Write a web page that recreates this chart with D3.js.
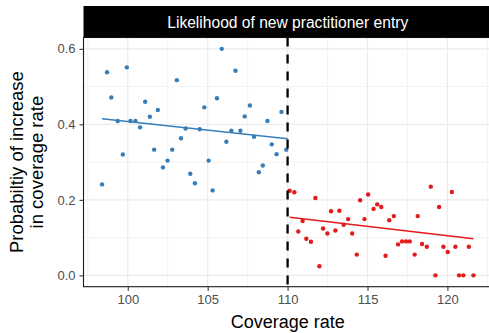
<!DOCTYPE html>
<html>
<head>
<meta charset="utf-8">
<script src="https://cdn.jsdelivr.net/npm/d3@7/dist/d3.min.js"></script>
<style>
  html, body { margin: 0; padding: 0; background: #ffffff; }
  svg { display: block; font-family: "Liberation Sans", Arial, sans-serif; }
</style>
</head>
<body>
<div id="chart"></div>
<script>
// below the cutoff (coverage < 110)
const belowX = [98.39, 98.70, 98.97, 99.37, 99.69, 99.94, 100.17, 100.48, 100.77, 101.09,
  101.38, 101.65, 101.88, 102.20, 102.49, 102.78, 103.07, 103.33, 103.62, 103.91,
  104.20, 104.50, 104.79, 105.06, 105.31, 105.58, 105.88, 106.17, 106.48, 106.74,
  107.05, 107.32, 107.64, 107.90, 108.20, 108.45, 108.74, 109.01, 109.31, 109.62, 109.92];
const belowY = [0.241, 0.538, 0.471, 0.409, 0.320, 0.551, 0.409, 0.409, 0.392, 0.460,
  0.420, 0.333, 0.438, 0.286, 0.304, 0.333, 0.517, 0.363, 0.389, 0.269,
  0.244, 0.387, 0.445, 0.304, 0.225, 0.469, 0.600, 0.354, 0.383, 0.542,
  0.383, 0.421, 0.450, 0.367, 0.273, 0.291, 0.409, 0.347, 0.321, 0.433, 0.333];

// above the cutoff
const aboveX = [110.13, 110.42, 110.67, 110.94, 111.17, 111.46, 111.74, 111.99, 112.22, 112.49,
  112.72, 112.99, 113.24, 113.51, 113.79, 114.04, 114.33, 114.54, 114.81, 115.04,
  115.38, 115.61, 115.86, 116.13, 116.36, 116.65, 116.91, 117.16, 117.41, 117.64,
  117.95, 118.14, 118.41, 118.71, 118.96, 119.25, 119.48, 119.75, 120.02, 120.28,
  120.50, 120.73, 121.00, 121.34, 121.63];
const aboveY = [0.224, 0.220, 0.116, 0.144, 0.097, 0.089, 0.205, 0.024, 0.124, 0.111,
  0.170, 0.119, 0.171, 0.134, 0.149, 0.111, 0.055, 0.199, 0.149, 0.214,
  0.176, 0.188, 0.181, 0.052, 0.146, 0.157, 0.082, 0.090, 0.090, 0.090,
  0.055, 0.157, 0.083, 0.076, 0.235, 0.000, 0.181, 0.076, 0.062, 0.221,
  0.076, 0.000, 0.000, 0.076, 0.000];

// linear fits, endpoints
const belowFit = [[98.39, 0.415], [110.0, 0.362]];
const aboveFit = [[110.13, 0.154], [121.63, 0.097]];

const cutoff = 110;
const xTicks = [100, 105, 110, 115, 120];
const xMinor = [97.5, 102.5, 107.5, 112.5, 117.5, 122.5];
const yTicks = [0, 0.2, 0.4, 0.6];
const yMinor = [0.1, 0.3, 0.5];

const stripTitle = 'Likelihood of new practitioner entry';
const xTitle = 'Coverage rate';
const yTitle = ['Probabiltiy of increase', 'in coverage rate'];

const width = 489;
const height = 333;
const panel = { left: 83.5, right: 492, top: 37.5, bottom: 286.7 };
const blue = '#377EB8';
const red = '#E41A1C';

const svg = d3.select('#chart')
  .append('svg')
  .attr('width', width)
  .attr('height', height);

const x = d3.scaleLinear().domain([97.23, 122.79]).range([panel.left, panel.right]);
const y = d3.scaleLinear().domain([-0.03, 0.63]).range([panel.bottom, panel.top]);

// grid
const grid = svg.append('g');
grid.selectAll('.xminor').data(xMinor).enter().append('line')
  .attr('x1', d => x(d)).attr('x2', d => x(d))
  .attr('y1', panel.top).attr('y2', panel.bottom)
  .style('stroke', '#EBEBEB').style('stroke-width', 0.6);
grid.selectAll('.yminor').data(yMinor).enter().append('line')
  .attr('x1', panel.left).attr('x2', panel.right)
  .attr('y1', d => y(d)).attr('y2', d => y(d))
  .style('stroke', '#EBEBEB').style('stroke-width', 0.6);
grid.selectAll('.xmajor').data(xTicks).enter().append('line')
  .attr('x1', d => x(d)).attr('x2', d => x(d))
  .attr('y1', panel.top).attr('y2', panel.bottom)
  .style('stroke', '#EBEBEB').style('stroke-width', 1.2);
grid.selectAll('.ymajor').data(yTicks).enter().append('line')
  .attr('x1', panel.left).attr('x2', panel.right)
  .attr('y1', d => y(d)).attr('y2', d => y(d))
  .style('stroke', '#EBEBEB').style('stroke-width', 1.2);

// points
function drawPoints(xs, ys, colour) {
  svg.append('g').selectAll('circle')
    .data(xs.map((v, i) => [v, ys[i]]))
    .enter()
    .append('circle')
    .attr('cx', d => x(d[0]))
    .attr('cy', d => y(d[1]))
    .attr('r', 2.2)
    .style('fill', colour);
}
drawPoints(belowX, belowY, blue);
drawPoints(aboveX, aboveY, red);

// fit lines
const line = d3.line().x(d => x(d[0])).y(d => y(d[1]));
svg.append('path').attr('d', line(belowFit))
  .style('fill', 'none').style('stroke', blue).style('stroke-width', 1.6);
svg.append('path').attr('d', line(aboveFit))
  .style('fill', 'none').style('stroke', red).style('stroke-width', 1.6);

// cutoff
svg.append('line')
  .attr('x1', x(cutoff)).attr('x2', x(cutoff))
  .attr('y1', panel.top).attr('y2', panel.bottom)
  .style('stroke', '#000000')
  .style('stroke-width', 2.3)
  .style('stroke-dasharray', '9,8');

// panel border
svg.append('rect')
  .attr('x', panel.left).attr('y', panel.top)
  .attr('width', panel.right - panel.left)
  .attr('height', panel.bottom - panel.top)
  .style('fill', 'none').style('stroke', '#1a1a1a').style('stroke-width', 1.1);

// strip
svg.append('rect')
  .attr('x', panel.left).attr('y', 6)
  .attr('width', panel.right - panel.left)
  .attr('height', panel.top - 6)
  .style('fill', '#000000');
svg.append('text')
  .attr('x', (panel.left + panel.right) / 2)
  .attr('y', 27.5)
  .attr('text-anchor', 'middle')
  .style('font-size', '15.6px')
  .style('fill', '#ffffff')
  .text(stripTitle);

// axes
const xAxis = svg.append('g')
  .attr('transform', `translate(0,${panel.bottom})`)
  .call(d3.axisBottom(x).tickValues(xTicks).tickSize(4).tickPadding(4).tickFormat(d3.format('d')));
const yAxis = svg.append('g')
  .attr('transform', `translate(${panel.left},0)`)
  .call(d3.axisLeft(y).tickValues(yTicks).tickSize(4).tickPadding(4).tickFormat(d3.format('.1f')));

[xAxis, yAxis].forEach(ax => {
  ax.select('.domain').remove();
  ax.selectAll('.tick line').style('stroke', '#333333').style('stroke-width', 1.1);
  ax.selectAll('.tick text')
    .style('font-size', '13px')
    .style('fill', '#4D4D4D')
    .style('font-family', '"Liberation Sans", Arial, sans-serif');
});

// titles
svg.append('text')
  .attr('x', (panel.left + panel.right) / 2)
  .attr('y', 328)
  .attr('text-anchor', 'middle')
  .style('font-size', '18px')
  .style('fill', '#000000')
  .text(xTitle);

const yt = svg.append('text')
  .attr('transform', `translate(0,${(panel.top + panel.bottom) / 2}) rotate(-90)`)
  .attr('text-anchor', 'middle')
  .style('font-size', '18.5px')
  .style('fill', '#000000');
yt.selectAll('tspan').data(yTitle).enter().append('tspan')
  .attr('x', 0)
  .attr('y', (d, i) => 23 + i * 20)
  .text(d => d);
</script>
</body>
</html>
